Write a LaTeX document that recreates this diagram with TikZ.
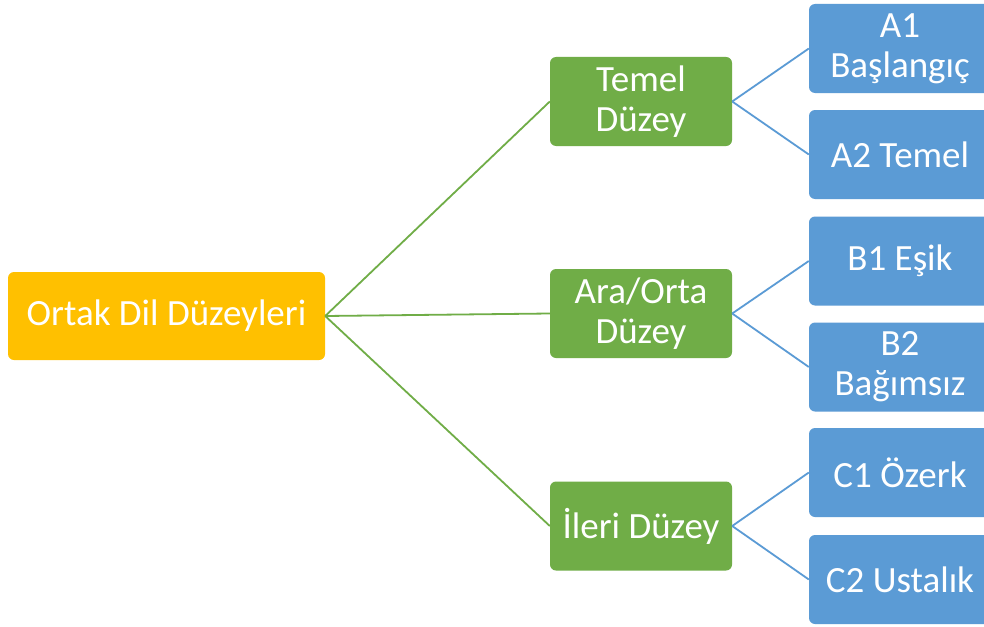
\documentclass[tikz,border=0pt]{standalone}
\usepackage{fontspec}
\setmainfont{Carlito}
\definecolor{rootfill}{HTML}{FFC000}
\definecolor{midfill}{HTML}{70AD47}
\definecolor{leaffill}{HTML}{5B9BD5}
\begin{document}
\begin{tikzpicture}[x=1pt,y=-1pt,
  box/.style={rounded corners=6pt, text=white, align=center, inner sep=0pt,
    font=\fontsize{37}{40}\selectfont},
  rootbox/.style={box, fill=rootfill, minimum width=317pt, minimum height=88pt},
  midbox/.style={box, fill=midfill, minimum width=182pt, minimum height=89pt},
  leafbox/.style={box, fill=leaffill, minimum width=182pt, minimum height=89pt},
  gline/.style={draw=midfill, line width=1.8pt},
  bline/.style={draw=leaffill, line width=1.8pt}]
\useasboundingbox (0,0) rectangle (984,626);
\clip (0,0) rectangle (984,626);
\fill[white] (0,0) rectangle (984,626);
\node[rootbox] (root) at (166.5,316) {Ortak Dil Düzeyleri};
\node[midbox] (temel) at (641,101.5) {Temel\\Düzey};
\node[midbox] (ara) at (641,313.5) {Ara/Orta\\Düzey};
\node[midbox] (ileri) at (641,526) {İleri Düzey};
\node[leafbox] (a1) at (900,48.5) {A1\\Başlangıç};
\node[leafbox] (a2) at (900,154.5) {A2 Temel};
\node[leafbox] (b1) at (900,261) {B1 Eşik};
\node[leafbox] (b2) at (900,367) {B2\\Bağımsız};
\node[leafbox] (c1) at (900,472.5) {C1 Özerk};
\node[leafbox] (c2) at (900,579.5) {C2 Ustalık};
\draw[gline] (root.east) -- (temel.west);
\draw[gline] (root.east) -- (ara.west);
\draw[gline] (root.east) -- (ileri.west);
\draw[bline] (temel.east) -- (a1.west);
\draw[bline] (temel.east) -- (a2.west);
\draw[bline] (ara.east) -- (b1.west);
\draw[bline] (ara.east) -- (b2.west);
\draw[bline] (ileri.east) -- (c1.west);
\draw[bline] (ileri.east) -- (c2.west);
\end{tikzpicture}
\end{document}
